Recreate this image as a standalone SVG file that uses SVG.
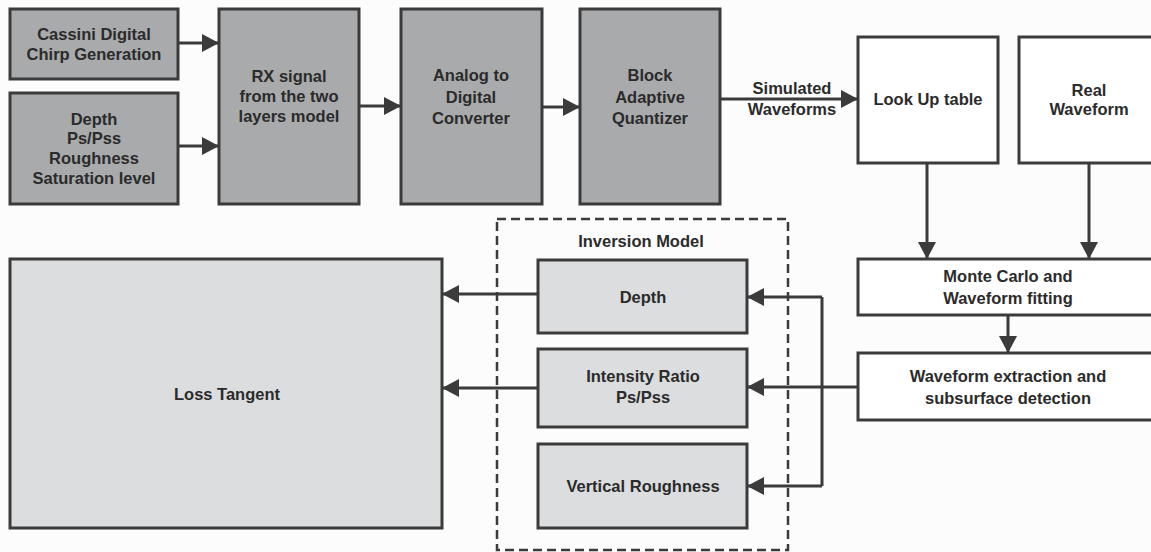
<svg xmlns="http://www.w3.org/2000/svg" width="1151" height="552" viewBox="0 0 1151 552">
<defs>
<style>
.dark{fill:#a9aaac;stroke:#3b3b3b;stroke-width:3}
.light{fill:#dcdddf;stroke:#3b3b3b;stroke-width:3}
.white{fill:#ffffff;stroke:#3b3b3b;stroke-width:3}
text{font-family:"Liberation Sans",Arial,sans-serif;font-weight:bold;font-size:16.5px;fill:#2b2b2b;text-anchor:middle}
.conn path{fill:none;stroke:#3b3b3b;stroke-width:3}
</style>
<marker id="ah" viewBox="0 0 17 18" refX="17" refY="9" markerWidth="17" markerHeight="18" markerUnits="userSpaceOnUse" orient="auto">
<path d="M0,0 L17,9 L0,18 Z" fill="#3b3b3b"/>
</marker>
</defs>
<rect width="1151" height="552" fill="#fcfcfc"/>

<g id="inversion-model">
<rect x="497" y="219" width="291" height="331" fill="none" stroke="#3b3b3b" stroke-width="2.5" stroke-dasharray="9,5"/>
<text x="641" y="247">Inversion Model</text>
</g>

<g id="cassini">
<rect class="dark" x="10" y="9" width="168" height="70"/>
<text x="94" y="40">Cassini Digital</text>
<text x="94" y="60">Chirp Generation</text>
</g>
<g id="params">
<rect class="dark" x="10" y="93" width="168" height="111"/>
<text x="94" y="125">Depth</text>
<text x="94" y="144">Ps/Pss</text>
<text x="94" y="164">Roughness</text>
<text x="94" y="184">Saturation level</text>
</g>
<g id="rx">
<rect class="dark" x="219" y="9" width="140" height="195"/>
<text x="289" y="82">RX signal</text>
<text x="289" y="102">from the two</text>
<text x="289" y="122">layers model</text>
</g>
<g id="adc">
<rect class="dark" x="401" y="9" width="141" height="195"/>
<text x="471" y="81">Analog to</text>
<text x="471" y="103">Digital</text>
<text x="471" y="124">Converter</text>
</g>
<g id="baq">
<rect class="dark" x="580" y="9" width="140" height="195"/>
<text x="650" y="81">Block</text>
<text x="650" y="103">Adaptive</text>
<text x="650" y="124">Quantizer</text>
</g>
<g id="lut">
<rect class="white" x="858" y="37" width="140" height="126"/>
<text x="928" y="105">Look Up table</text>
</g>
<g id="real">
<rect class="white" x="1019" y="37" width="142" height="126"/>
<text x="1089" y="96">Real</text>
<text x="1089" y="115">Waveform</text>
</g>
<g id="montecarlo">
<rect class="white" x="858" y="259" width="302" height="56"/>
<text x="1008" y="282">Monte Carlo and</text>
<text x="1008" y="304">Waveform fitting</text>
</g>
<g id="extraction">
<rect class="white" x="858" y="353" width="302" height="67"/>
<text x="1008" y="382">Waveform extraction and</text>
<text x="1008" y="404">subsurface detection</text>
</g>
<g id="depth">
<rect class="light" x="538" y="260" width="209" height="73"/>
<text x="643" y="303">Depth</text>
</g>
<g id="intensity">
<rect class="light" x="538" y="349" width="209" height="78"/>
<text x="643" y="382">Intensity Ratio</text>
<text x="643" y="403">Ps/Pss</text>
</g>
<g id="roughness">
<rect class="light" x="538" y="444" width="209" height="84"/>
<text x="643" y="492">Vertical Roughness</text>
</g>
<g id="loss">
<rect class="light" x="10" y="259" width="432" height="269"/>
<text x="227" y="400">Loss Tangent</text>
</g>

<g class="conn" id="connectors">
<path d="M178,43 H219" marker-end="url(#ah)"/>
<path d="M178,146 H219" marker-end="url(#ah)"/>
<path d="M359,106 H401" marker-end="url(#ah)"/>
<path d="M542,107 H580" marker-end="url(#ah)"/>
<path d="M720,99 H858" marker-end="url(#ah)"/>
<path d="M927,163 V259" marker-end="url(#ah)"/>
<path d="M1089,163 V259" marker-end="url(#ah)"/>
<path d="M1008,315 V353" marker-end="url(#ah)"/>
<path d="M858,387 H747" marker-end="url(#ah)"/>
<path d="M822,297 V486"/>
<path d="M822,297 H747" marker-end="url(#ah)"/>
<path d="M822,486 H747" marker-end="url(#ah)"/>
<path d="M538,294 H442" marker-end="url(#ah)"/>
<path d="M538,388 H442" marker-end="url(#ah)"/>
</g>
<g id="label-simulated">
<text x="792" y="94">Simulated</text>
<text x="792" y="115">Waveforms</text>
</g>
</svg>
